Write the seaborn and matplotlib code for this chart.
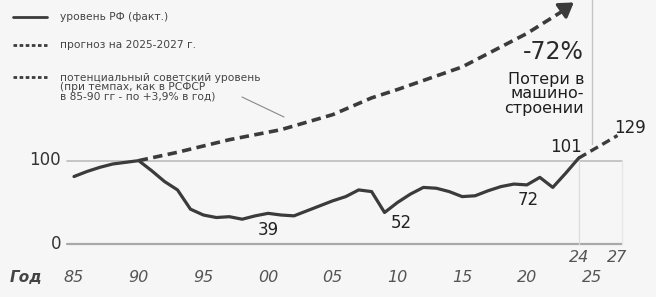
import numpy as np
import pandas as pd
import seaborn as sns
import matplotlib.pyplot as plt
from matplotlib.lines import Line2D

# actual level, index 1990 = 100
years = list(range(1985, 2025))
actual = [81, 87, 92, 96, 98, 100, 88, 75, 65, 42,
          35, 32, 33, 30, 34, 37, 35, 34, 40, 46,
          52, 57, 65, 63, 38, 50, 60, 68, 67, 63,
          57, 58, 64, 69, 72, 71, 80, 68, 85, 103]

# forecast 2025-2027
fc_years = [2024, 2027]
fc_values = [103, 130]

# potential soviet level
sov_years = [1990, 1993, 1997, 2001, 2005, 2008, 2010, 2015, 2020, 2023.3]
sov_values = [100, 110, 125, 137, 155, 175, 185, 212, 252, 284]

main_ticks = [1985, 1990, 1995, 2000, 2005, 2010, 2015, 2020, 2025]
main_labels = ["85", "90", "95", "00", "05", "10", "15", "20", "25"]
low_ticks = [2024, 2027]
low_labels = ["24", "27"]

sns.set_theme(style="white")
plt.rcParams['font.family'] = ['DejaVu Sans']

W, H = 656, 297
fig = plt.figure(figsize=(W / 100, H / 100), dpi=100)
fig.patch.set_facecolor("#f6f6f6")

x0, x1 = 1984.46, 2027.35
ax = fig.add_axes([67 / W, (H - 244.3) / H, (622 - 67) / W, 244.3 / H])
ax.set_facecolor("#f6f6f6")
ax.set_xlim(x0, x1)
ax.set_ylim(0, 292)
for s in ax.spines.values():
    s.set_visible(False)
ax.set_xticks([])
ax.set_yticks([])

dark = "#3b3b3b"
dash = (0, (2.6, 1.5))

# grid / guide lines
ax.axhline(0, color="#a8a8a8", lw=1.6, zorder=1)
ax.axhline(100, color="#bdbdbd", lw=1.2, zorder=1)
ax.plot([2024, 2024], [0, 100], color="#dcdcdc", lw=0.9, zorder=1)
ax.plot([x1, x1], [0, 100], color="#e6e6e6", lw=0.9, zorder=1)
ax.plot([2025, 2025], [120, 292], color="#c4c4c4", lw=1.0, zorder=1)

df = pd.DataFrame({"year": years, "value": actual})
sns.lineplot(data=df, x="year", y="value", ax=ax, color=dark, lw=2.3, zorder=3)

fc = pd.DataFrame({"year": fc_years, "value": fc_values})
sns.lineplot(data=fc, x="year", y="value", ax=ax, color=dark, lw=2.4,
             linestyle=dash, zorder=3)

sov = pd.DataFrame({"year": sov_years, "value": sov_values})
sns.lineplot(data=sov, x="year", y="value", ax=ax, color=dark, lw=2.6,
             linestyle=dash, zorder=3)
for l in ax.lines:
    l.set_clip_on(False)
ax.annotate("", xy=(2023.8, 291), xytext=(2022.6, 278),
            arrowprops=dict(arrowstyle="-|>,head_length=0.7,head_width=0.45",
                            color=dark, lw=2.4), annotation_clip=False)

ax.set_xlabel("")
ax.set_ylabel("")

# value callouts
ax.text(2000.0, 17, "39", fontsize=12, color="#222", ha="center", va="center")
ax.text(2010.3, 25, "52", fontsize=12, color="#222", ha="center", va="center")
ax.text(2020.1, 53, "72", fontsize=12, color="#222", ha="center", va="center")
ax.text(2023.0, 116, "101", fontsize=12, color="#222", ha="center", va="center")
ax.text(2028.0, 139, "129", fontsize=12, color="#222", ha="center", va="center",
        clip_on=False)

# x tick labels
tick_y = (H - 277) / H
for t, lab in zip(main_ticks, main_labels):
    xf = 67 / W + (t - x0) / (x1 - x0) * (622 - 67) / W
    fig.text(xf, tick_y, lab, fontsize=11.5, style="italic", color="#555",
             ha="center", va="center")
for t, lab in zip(low_ticks, low_labels):
    xf = 67 / W + (t - x0) / (x1 - x0) * (622 - 67) / W
    fig.text(xf, (H - 258) / H, lab, fontsize=11.5, style="italic", color="#555",
             ha="center", va="center")
fig.text(26 / W, tick_y, "Год", fontsize=11, style="italic", weight="bold",
         color="#444", ha="center", va="center")

# y labels
fig.text(61 / W, (H - 160) / H, "100", fontsize=12, color="#333", ha="right", va="center")
fig.text(61 / W, (H - 244) / H, "0", fontsize=12, color="#333", ha="right", va="center")

# loss annotation
fig.text(584 / W, (H - 52) / H, "-72%", fontsize=17, color="#2a2a2a",
         ha="right", va="center")
fig.text(584 / W, (H - 94) / H, "Потери в\nмашино-\nстроении", fontsize=11.5,
         color="#1e1e1e", ha="right", va="center", linespacing=0.95)

# legend drawn by hand
def px(x, y):
    return x / W, (H - y) / H

for y, style in [(17, "-"), (45, (0, (1.3, 0.9))), (77, (0, (1.3, 0.9)))]:
    (a, b), (c, d) = px(13, y), px(47, y)
    fig.add_artist(Line2D([a, c], [b, d], color=dark, lw=2.0, linestyle=style))
fig.text(*px(60, 17), "уровень РФ (факт.)", fontsize=7.7, color="#444", va="center")
fig.text(*px(60, 45), "прогноз на 2025-2027 г.", fontsize=7.7, color="#444", va="center")
fig.text(*px(60, 87), "потенциальный советский уровень\n(при темпах, как в РСФСР\nв 85-90 гг - по +3,9% в год)",
         fontsize=7.7, color="#444", va="center", linespacing=0.9)
(a, b), (c, d) = px(242, 97), px(284, 117)
fig.add_artist(Line2D([a, c], [b, d], color="#888", lw=0.8))

fig.savefig("out.png", dpi=100, facecolor=fig.get_facecolor())
